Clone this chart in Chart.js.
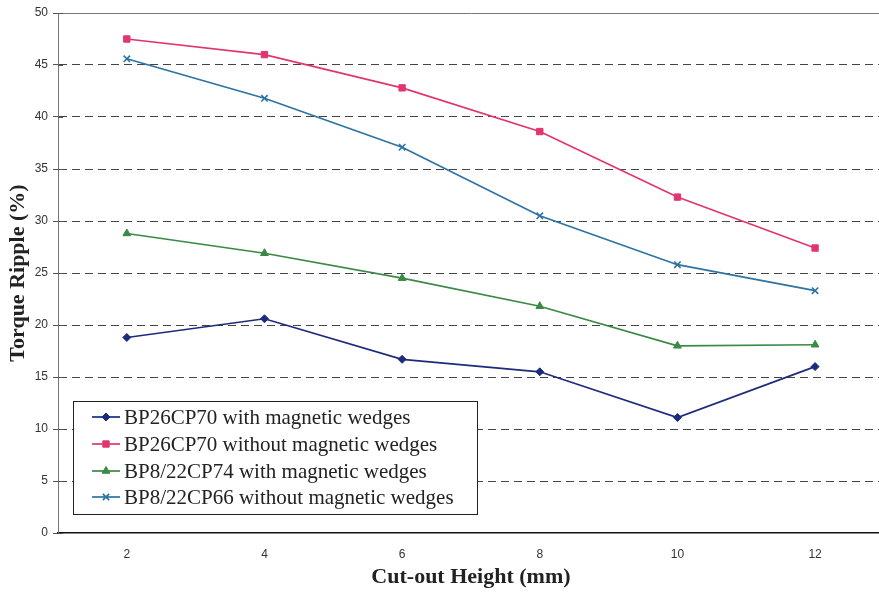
<!DOCTYPE html>
<html>
<head>
<meta charset="utf-8">
<script src="https://cdn.jsdelivr.net/npm/chart.js@4/dist/chart.umd.min.js"></script>
<style>
  html, body { margin: 0; padding: 0; background: #fff; }
  #frame { width: 879px; height: 595px; overflow: hidden; position: relative; }
  #c { display: block; }
</style>
</head>
<body>
<div id="frame"><canvas id="c" width="890" height="595"></canvas></div>
<script>
// Cut-out height (mm) along the category axis
const heights = ['2', '4', '6', '8', '10', '12'];

// Torque ripple (%) per design
const bp26WithWedges    = [18.8, 20.6, 16.7, 15.5, 11.1, 16.0];
const bp26WithoutWedges = [47.5, 46.0, 42.8, 38.6, 32.3, 27.4];
const bp8WithWedges     = [28.8, 26.9, 24.5, 21.8, 18.0, 18.1];
const bp8WithoutWedges  = [45.6, 41.8, 37.1, 30.5, 25.8, 23.3];

const seriesNames = [
  'BP26CP70 with magnetic wedges',
  'BP26CP70 without magnetic wedges',
  'BP8/22CP74 with magnetic wedges',
  'BP8/22CP66 without magnetic wedges'
];

const yTicks = [0, 5, 10, 15, 20, 25, 30, 35, 40, 45, 50];

const colors = ['#1d2b7c', '#e2356f', '#3a8a46', '#2d73a3'];
const markers = ['rectRot', 'rect', 'triangle', 'crossRot'];
const markerSizes = [4, 4.5, 4.5, 4.5];

function makeSet(i, values) {
  return {
    label: seriesNames[i],
    data: values,
    borderColor: colors[i],
    backgroundColor: colors[i],
    borderWidth: 1.7,
    pointStyle: markers[i],
    pointRadius: markerSizes[i],
    pointBorderWidth: markers[i] === 'crossRot' ? 1.6 : 1,
    tension: 0,
    fill: false
  };
}

// Boxed legend drawn inside the plot area, lower-left corner
const innerLegend = {
  id: 'innerLegend',
  afterDatasetsDraw(chart) {
    const ctx = chart.ctx;
    const x0 = 73, y0 = 401, w = 404, h = 113;
    ctx.save();
    ctx.fillStyle = '#fff';
    ctx.fillRect(x0, y0, w, h);
    ctx.strokeStyle = '#222';
    ctx.lineWidth = 1;
    ctx.strokeRect(x0 + 0.5, y0 + 0.5, w, h);
    const rows = [417, 444, 471, 497];
    chart.data.datasets.forEach((ds, i) => {
      const y = rows[i];
      ctx.strokeStyle = ds.borderColor;
      ctx.lineWidth = 1.7;
      ctx.beginPath();
      ctx.moveTo(92, y);
      ctx.lineTo(120, y);
      ctx.stroke();
      ctx.fillStyle = ds.borderColor;
      ctx.strokeStyle = ds.borderColor;
      ctx.lineWidth = ds.pointBorderWidth;
      Chart.helpers.drawPoint(ctx, {
        pointStyle: ds.pointStyle,
        radius: ds.pointRadius,
        rotation: 0,
        borderWidth: ds.pointBorderWidth
      }, 106, y);
      ctx.fillStyle = '#222';
      ctx.font = '21px "Liberation Serif", "Times New Roman", serif';
      ctx.textBaseline = 'middle';
      ctx.textAlign = 'left';
      ctx.fillText(ds.label, 124, y + 1);
    });
    ctx.restore();
  }
};

// Short tick stubs on the inner side of the value axis
const innerTicks = {
  id: 'innerTicks',
  afterDraw(chart) {
    const y = chart.scales.y;
    const ctx = chart.ctx;
    ctx.save();
    ctx.strokeStyle = '#555';
    ctx.lineWidth = 1;
    y.ticks.forEach(t => {
      const py = Math.round(y.getPixelForValue(t.value)) + 0.5;
      ctx.beginPath();
      ctx.moveTo(y.right, py);
      ctx.lineTo(y.right + 5, py);
      ctx.stroke();
    });
    ctx.restore();
  }
};

new Chart(document.getElementById('c'), {
  type: 'line',
  data: {
    labels: heights,
    datasets: [
      makeSet(0, bp26WithWedges),
      makeSet(1, bp26WithoutWedges),
      makeSet(2, bp8WithWedges),
      makeSet(3, bp8WithoutWedges)
    ]
  },
  options: {
    responsive: false,
    devicePixelRatio: 1,
    animation: false,
    layout: { padding: { top: 13, right: 1, left: 0, bottom: 0 } },
    plugins: {
      legend: { display: false },
      tooltip: { enabled: false }
    },
    scales: {
      x: {
        type: 'category',
        offset: true,
        grid: { display: false },
        border: { display: true, color: '#111', width: 1.5 },
        ticks: {
          color: '#333',
          padding: 6,
          font: { family: '"Liberation Sans", Arial, sans-serif', size: 12 }
        },
        title: {
          display: true,
          text: 'Cut-out Height (mm)',
          color: '#222',
          padding: { top: 0, bottom: 4 },
          font: { family: '"Liberation Serif", "Times New Roman", serif', size: 22, weight: 'bold' }
        },
        afterFit(scale) { scale.height = 62; }
      },
      y: {
        min: 0,
        max: 50,
        afterBuildTicks(scale) { scale.ticks = yTicks.map(v => ({ value: v })); },
        grid: {
          color: c => {
            const v = c.tick ? c.tick.value : null;
            if (v === 0) return 'rgba(0,0,0,0)';
            if (v === 50) return '#777';
            return '#444';
          },
          lineWidth: 1,
          tickLength: 5,
          tickColor: '#555',
          tickBorderDash: []
        },
        border: {
          display: true,
          color: '#777',
          width: 1,
          dash: c => (c.tick && c.tick.value > 0 && c.tick.value < 50) ? [8, 5] : []
        },
        ticks: {
          color: '#333',
          padding: 5,
          font: { family: '"Liberation Sans", Arial, sans-serif', size: 12 }
        },
        title: {
          display: true,
          text: 'Torque Ripple (%)',
          color: '#222',
          padding: { top: 5, bottom: 0 },
          font: { family: '"Liberation Serif", "Times New Roman", serif', size: 22, weight: 'bold' }
        },
        afterFit(scale) { scale.width = 58; }
      }
    }
  },
  plugins: [innerLegend, innerTicks]
});
</script>
</body>
</html>
